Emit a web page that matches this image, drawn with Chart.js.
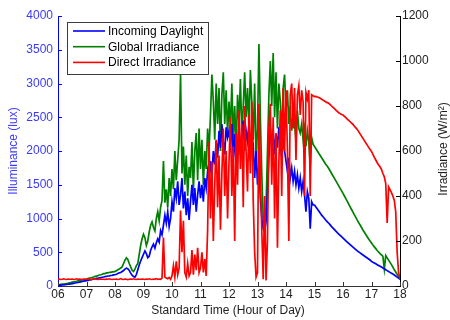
<!DOCTYPE html>
<html>
<head>
<meta charset="utf-8">
<script src="https://cdn.jsdelivr.net/npm/chart.js@4.4.1/dist/chart.umd.min.js"></script>
<style>
  html, body { margin: 0; padding: 0; background: #ffffff; }
  #wrap { width: 450px; height: 320px; }
</style>
</head>
<body>
<div id="wrap"><canvas id="daylight" width="450" height="320"></canvas></div>
<script>
// Readings logged every 3 minutes (0.05 h) from 06:00 to 18:00.
const SAMPLE_START_HOUR = 6;
const SAMPLE_STEP_HOUR = 0.05;

// Hour-of-day tick labels for the time axis (06 .. 18).
const hourTickLabels = ['06','07','08','09','10','11','12','13','14','15','16','17','18'];

// Incoming daylight at the window (lux), one row per hour.
const daylightLux = [
  10,12,14,16,18,20,23,26,29,32,36,40,44,48,52,57,62,67,72,76,
  80,84,90,92,97,104,106,112,115,122,124,130,133,140,142,148,150,156,158,164,
  168,175,185,195,200,215,230,250,265,255,230,190,160,140,130,170,240,310,370,420,
  470,520,480,420,440,530,580,620,560,640,700,650,820,760,900,1050,930,1100,880,1000,
  1250,1100,1450,1300,1550,1200,1350,1600,1150,1400,1050,1300,980,1250,1500,1200,1450,1100,1350,1550,
  1300,1500,1250,1600,1450,1700,1550,1850,1650,2000,1800,2150,1900,2300,2050,2400,2150,1950,2350,2200,
  2300,2100,2400,1900,2250,1700,2050,2350,1950,2200,2450,2000,2300,2150,2400,1850,2250,2100,1600,2000,
  1500,1800,1300,1000,850,800,950,1400,1900,2350,2100,2300,1950,2250,2050,2350,2100,1900,2200,2000,
  1850,1700,1900,1600,1750,1550,1700,1500,1650,1450,1600,1400,1550,1350,1100,1400,1300,850,1250,1200,
  1200,1170,1140,1110,1080,1050,1025,1000,975,950,930,905,880,858,835,812,790,770,750,730,
  710,690,670,650,630,612,594,576,558,540,520,505,490,475,460,445,430,415,400,385,
  365,352,340,328,316,304,292,280,268,256,240,228,215,202,190,177,163,148,132,116,
  100
];

// Global horizontal irradiance (W/m²), one row per hour.
const globalIrradiance = [
  5,6,7,8,9,10,11,12,14,15,17,18,20,21,23,24,26,27,28,30,
  31,33,35,36,38,40,43,44,46,49,50,52,55,55,58,58,61,61,63,63,
  65,68,72,75,80,85,100,115,125,118,100,85,70,65,75,90,100,140,180,210,
  230,215,180,200,240,270,285,260,245,300,330,290,350,380,555,370,430,350,480,400,
  520,430,600,470,560,650,940,500,620,450,580,400,530,480,640,420,600,680,470,700,
  520,650,450,600,520,700,600,760,940,820,650,900,720,880,600,850,950,720,870,680,
  820,700,900,650,800,600,850,720,920,680,800,950,750,880,700,960,820,650,900,560,
  700,1075,750,500,300,262,350,600,850,1000,800,1035,750,950,700,900,820,650,880,940,
  780,870,720,800,690,760,720,650,780,700,680,720,650,700,620,690,640,530,660,630,
  620,610,600,590,580,570,560,550,540,532,522,511,500,489,478,467,456,445,434,423,
  412,400,388,376,364,352,340,328,316,305,293,282,271,260,249,239,229,219,209,200,
  191,182,174,166,158,151,144,138,132,75,135,125,115,105,95,84,72,62,52,42,
  31
];

// Direct normal irradiance (W/m²), one row per hour.
const directIrradiance = [
  30,31,29,30,32,30,29,31,30,30,31,29,30,32,30,31,30,29,31,30,
  30,31,30,29,30,31,32,30,29,30,31,30,30,29,31,30,32,30,29,30,
  30,31,29,30,33,30,29,31,30,28,30,31,30,32,30,29,31,30,30,31,
  30,29,31,30,32,30,29,31,30,33,30,31,30,35,215,40,35,32,38,30,
  45,90,40,110,50,80,335,150,290,60,40,100,45,60,160,50,140,70,170,60,
  80,150,60,120,45,250,640,300,550,200,450,650,350,580,250,500,700,400,600,300,
  550,750,400,620,200,680,450,780,520,720,350,800,600,420,760,500,820,380,150,40,
  60,810,500,250,30,400,25,200,700,810,450,750,300,680,170,550,780,400,880,600,
  870,600,200,850,900,700,880,560,850,890,760,870,820,400,860,830,870,400,850,845,
  842,843,840,838,835,830,826,822,818,815,812,806,800,794,788,782,776,770,766,762,
  760,754,748,742,736,730,724,718,710,703,696,686,676,666,656,646,636,626,616,607,
  598,585,572,560,548,538,530,518,500,485,455,280,440,428,415,400,380,330,150,60,
  31
];

const LUX_COLOR = '#0000ff';
const LUX_TEXT = '#3a3aff';
const AXIS_TEXT = '#1e1e1e';
const FONT_FAMILY = '"Liberation Sans", Arial, Helvetica, sans-serif';

// Pair each reading with its time of day.
function toPoints(values) {
  return values.map((v, i) => ({ x: SAMPLE_START_HOUR + i * SAMPLE_STEP_HOUR, y: v }));
}

const seriesList = [
  { label: 'Incoming Daylight', values: daylightLux, color: '#0000ff', axis: 'yLux', order: 2 },
  { label: 'Global Irradiance', values: globalIrradiance, color: '#008000', axis: 'yIrr', order: 3 },
  { label: 'Direct Irradiance', values: directIrradiance, color: '#ff0000', axis: 'yIrr', order: 1 }
];

// Axis titles, inward tick marks and the boxed legend.
const axesDecor = {
  id: 'axesDecor',
  afterDraw(chart) {
    const { ctx, chartArea: a, scales } = chart;
    ctx.save();
    ctx.lineWidth = 1;
    const TICK = 4;

    ctx.strokeStyle = LUX_COLOR;
    scales.yLux.ticks.forEach(t => {
      const y = Math.round(scales.yLux.getPixelForValue(t.value)) + 0.5;
      ctx.beginPath(); ctx.moveTo(a.left, y); ctx.lineTo(a.left + TICK, y); ctx.stroke();
    });
    ctx.strokeStyle = '#000000';
    scales.yIrr.ticks.forEach(t => {
      const y = Math.round(scales.yIrr.getPixelForValue(t.value)) + 0.5;
      ctx.beginPath(); ctx.moveTo(a.right, y); ctx.lineTo(a.right - TICK, y); ctx.stroke();
    });
    ctx.strokeStyle = '#333333';
    scales.x.ticks.forEach(t => {
      const x = Math.round(scales.x.getPixelForValue(t.value)) + 0.5;
      ctx.beginPath(); ctx.moveTo(x, a.bottom); ctx.lineTo(x, a.bottom - TICK); ctx.stroke();
    });

    // axis titles
    ctx.font = '12px ' + FONT_FAMILY;
    ctx.textAlign = 'center';
    ctx.textBaseline = 'middle';
    ctx.fillStyle = AXIS_TEXT;
    ctx.fillText('Standard Time (Hour of Day)', 228, 311);

    ctx.save();
    ctx.translate(14, (a.top + a.bottom) / 2);
    ctx.rotate(-Math.PI / 2);
    ctx.fillStyle = LUX_TEXT;
    ctx.fillText('Illuminance (lux)', 0, 0);
    ctx.restore();

    ctx.save();
    ctx.translate(444, (a.top + a.bottom) / 2 - 2);
    ctx.rotate(-Math.PI / 2);
    ctx.fillStyle = AXIS_TEXT;
    ctx.fillText('Irradiance (W/m²)', 0, 0);
    ctx.restore();

    // legend box
    const lx = 67, ly = 22, lw = 141, lh = 52;
    ctx.fillStyle = '#ffffff';
    ctx.fillRect(lx, ly, lw, lh);
    ctx.strokeStyle = '#3c3c3c';
    ctx.strokeRect(lx + 0.5, ly + 0.5, lw, lh);
    ctx.textAlign = 'left';
    ctx.fillStyle = '#000000';
    seriesList.forEach((s, i) => {
      const y = ly + 9 + i * 15.7;
      ctx.strokeStyle = s.color;
      ctx.lineWidth = 1.6;
      ctx.beginPath(); ctx.moveTo(lx + 6, y); ctx.lineTo(lx + 38, y); ctx.stroke();
      ctx.fillText(s.label, lx + 41, y + 0.5);
    });
    ctx.restore();
  }
};

const plainNumber = v => String(v);

new Chart(document.getElementById('daylight'), {
  type: 'line',
  data: {
    datasets: seriesList.map(s => ({
      label: s.label,
      data: toPoints(s.values),
      yAxisID: s.axis,
      borderColor: s.color,
      backgroundColor: s.color,
      order: s.order
    }))
  },
  options: {
    responsive: false,
    animation: false,
    devicePixelRatio: 1,
    layout: { padding: { top: 16, left: 0, right: 0, bottom: 0 } },
    elements: {
      point: { radius: 0 },
      line: { borderWidth: 1.7, tension: 0 }
    },
    plugins: { legend: { display: false }, tooltip: { enabled: false } },
    font: { family: FONT_FAMILY, size: 12 },
    scales: {
      x: {
        type: 'linear', position: 'bottom', min: 6, max: 18,
        afterFit: s => { s.height = 34; },
        grid: { display: false, drawTicks: false },
        border: { display: true, color: '#333333', width: 1 },
        ticks: {
          stepSize: 1, padding: 1, color: AXIS_TEXT, maxRotation: 0, autoSkip: false,
          font: { family: FONT_FAMILY, size: 12 },
          callback: v => hourTickLabels[Math.round(v - 6)]
        }
      },
      yLux: {
        type: 'linear', position: 'left', min: 0, max: 4000,
        afterFit: s => { s.width = 58; },
        grid: { display: false, drawTicks: false },
        border: { display: true, color: LUX_COLOR, width: 1 },
        ticks: { stepSize: 500, padding: 5, color: LUX_TEXT, callback: plainNumber,
                 font: { family: FONT_FAMILY, size: 12 } }
      },
      yIrr: {
        type: 'linear', position: 'right', min: 0, max: 1200,
        afterFit: s => { s.width = 50; },
        grid: { display: false, drawTicks: false },
        border: { display: true, color: '#000000', width: 1 },
        ticks: { stepSize: 200, padding: 2, color: AXIS_TEXT, callback: plainNumber,
                 font: { family: FONT_FAMILY, size: 12 } }
      }
    }
  },
  plugins: [axesDecor]
});
</script>
</body>
</html>
